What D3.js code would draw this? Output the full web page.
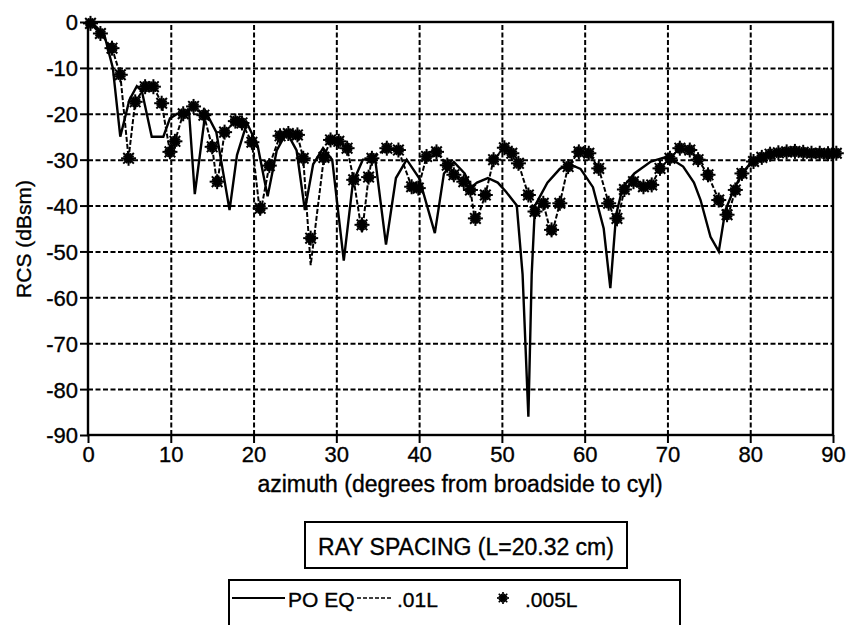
<!DOCTYPE html>
<html>
<head>
<meta charset="utf-8">
<script src="https://cdn.jsdelivr.net/npm/d3@7"></script>
<style>
  body { margin: 0; background: #fff; }
  svg { font-family: "Liberation Sans", Arial, Helvetica, sans-serif; }
  text { stroke: #000; stroke-width: 0.35px; }
</style>
</head>
<body>
<svg id="chart" width="853" height="625"></svg>
<script>
// ======================
// Data
// ======================
const xTicks = [0, 10, 20, 30, 40, 50, 60, 70, 80, 90];
const yTicks = [0, -10, -20, -30, -40, -50, -60, -70, -80, -90];

// PO EQ (solid line): [azimuth, RCS dBsm]
const poEq = [
  [0, 0], [1, -1], [2, -3], [3, -10], [3.9, -25], [5, -17], [5.9, -14], [6.5, -15],
  [7.7, -25], [9.1, -25], [9.9, -21], [10.8, -20], [12.2, -19.5], [12.9, -37.5],
  [14.2, -19.5], [15.5, -24], [17.1, -41], [18, -29], [19.2, -22], [20.5, -27],
  [21.7, -38], [22.8, -28], [24, -24], [25.2, -28], [26.2, -41], [27.2, -31],
  [28.4, -27.5], [29.5, -30], [30.9, -52], [32, -35], [33.2, -30], [34.7, -30],
  [36, -48.5], [37.2, -34], [38.5, -30], [40, -34], [41.9, -46], [43, -33],
  [44.2, -30.5], [45.5, -33], [46.3, -36], [47, -35], [48.3, -34], [49.5, -35],
  [50.5, -37], [51.8, -40], [52.5, -55], [53.2, -86], [53.6, -55], [54, -40],
  [55.5, -35], [57, -32], [58.2, -31], [59.5, -32], [61, -36], [62.3, -45],
  [63.1, -58], [63.8, -42], [64.6, -36], [66, -33], [68, -30.4], [70, -29.3],
  [71.9, -31.5], [73.2, -35], [74, -38.8], [75.2, -46.8], [76.2, -50], [77, -41],
  [78, -36.6], [79, -33], [80.2, -30.4], [82, -29], [85, -28.5], [90, -28.5]
];

// .01L (dashed line)
const ray01 = [
  [0, 0], [0.3, -0.3], [1.5, -2.5], [2.9, -5.7], [3.9, -11.5], [4.9, -29.7], [5.7, -17.4],
  [6.9, -14.1], [7.9, -14.1], [8.9, -17.7], [9.9, -28.3], [10.5, -26], [11.5, -20],
  [12.75, -18.4], [14, -20.3], [15, -27.2], [15.6, -35.5], [16.5, -24], [17.8, -21.6],
  [18.6, -22], [19.8, -26.2], [20.8, -42], [21.9, -31.3], [23.2, -24.8], [24.2, -24.3],
  [25.3, -24.6], [26, -29.7], [26.9, -53], [28.5, -29.5], [29.3, -25.7], [30.3, -26],
  [31.3, -27.5], [32.1, -34.4], [33.1, -46], [33.9, -33.8], [34.3, -29.7], [36.1, -27.5],
  [37.5, -27.9], [39.1, -35.9], [39.9, -36.2], [40.9, -29.3], [42.1, -28.3], [43.4, -31.2],
  [44.2, -33.3], [45.4, -34.8], [46.2, -36.6], [46.8, -44], [48, -37.7], [49, -30],
  [50.3, -27.4], [51.2, -28.6], [52, -30.8], [53.2, -37.7], [54, -41.3], [55, -39.5],
  [56, -46.5], [57, -39.5], [58, -31.5], [59.3, -28.3], [60.5, -28.6], [61.7, -31.9],
  [62.9, -39.5], [63.9, -44], [64.8, -36.5], [65.9, -34.8], [67.1, -35.9], [68.1, -35.5],
  [69.1, -31.9], [70.3, -29.7], [71.5, -27.5], [72.7, -27.9], [73.7, -30], [74.9, -33.3],
  [76.2, -38.8], [77.2, -43], [78.2, -36.6], [79, -33], [80.4, -30.4], [82.4, -28.8],
  [84.4, -28.3], [86.4, -28.4], [88.4, -28.6], [90, -28.6]
];

// .005L (asterisks)
const ray005 = [
  [0.3, -0.3], [1.5, -2.5], [2.9, -5.7], [3.9, -11.5], [4.9, -29.7], [5.7, -17.4],
  [6.9, -14.1], [7.9, -14.1], [8.9, -17.7], [9.9, -28.3], [10.5, -26], [11.5, -20],
  [12.75, -18.4], [14, -20.3], [15, -27.2], [15.6, -34.8], [16.5, -24], [17.8, -21.6],
  [18.6, -22], [19.8, -26.2], [20.8, -40.6], [21.9, -31.3], [23.2, -24.8], [24.2, -24.3],
  [25.3, -24.6], [26, -29.7], [26.9, -47.1], [28.5, -29.5], [29.3, -25.7], [30.3, -26],
  [31.3, -27.5], [32.1, -34.4], [33.1, -44.2], [33.9, -33.8], [34.3, -29.7], [36.1, -27.5],
  [37.5, -27.9], [39.1, -35.9], [39.9, -36.2], [40.9, -29.3], [42.1, -28.3], [43.4, -31.2],
  [44.2, -33.3], [45.4, -34.8], [46.2, -36.6], [46.8, -42.8], [48, -37.7], [49, -30],
  [50.3, -27.4], [51.2, -28.6], [52, -30.8], [53.2, -37.7], [54, -41.3], [55, -39.5],
  [56, -45.3], [57, -39.5], [58, -31.5], [59.3, -28.3], [60.5, -28.6], [61.7, -31.9],
  [62.9, -39.5], [63.9, -42.8], [64.8, -36.5], [65.9, -34.8], [67.1, -35.9], [68.1, -35.5],
  [69.1, -31.9], [70.3, -29.7], [71.5, -27.5], [72.7, -27.9], [73.7, -30], [74.9, -33.3],
  [76.2, -38.8], [77.2, -42], [78.2, -36.6], [79, -33], [80.4, -30.4], [81.4, -29.5],
  [82.4, -28.8], [83.4, -28.5], [84.4, -28.3], [85.4, -28.2], [86.4, -28.4], [87.4, -28.6],
  [88.4, -28.6], [89.4, -28.7], [90.4, -28.6]
];

const legendTitle = "RAY SPACING (L=20.32 cm)";
const legendItems = ["PO EQ", ".01L", ".005L"];

// ======================
// Setup
// ======================
const svg = d3.select("#chart");
const plot = { left: 88, right: 833, top: 22, bottom: 435 };

const x = d3.scaleLinear().domain([0, 90]).range([plot.left, plot.right]);
const y = d3.scaleLinear().domain([-90, 0]).range([plot.bottom, plot.top]);

// =========================
// Gridlines
// =========================
const gridX = svg.append("g")
  .attr("transform", `translate(0,${plot.bottom})`)
  .call(d3.axisBottom(x).tickValues(xTicks.slice(1, -1))
    .tickSize(-(plot.bottom - plot.top)).tickFormat(""));
const gridY = svg.append("g")
  .attr("transform", `translate(${plot.left},0)`)
  .call(d3.axisLeft(y).tickValues(yTicks.slice(1, -1))
    .tickSize(-(plot.right - plot.left)).tickFormat(""));

[gridX, gridY].forEach(g => {
  g.select(".domain").remove();
  g.selectAll("line")
    .attr("stroke", "#000")
    .attr("stroke-width", 2)
    .attr("stroke-dasharray", "5,2.5");
});

// =========================
// Series
// =========================
const line = d3.line().x(d => x(d[0])).y(d => y(d[1]));

svg.append("path")
  .datum(ray01)
  .attr("d", line)
  .attr("fill", "none")
  .attr("stroke", "#000")
  .attr("stroke-width", 2)
  .attr("stroke-dasharray", "5,2");

svg.append("path")
  .datum(poEq)
  .attr("d", line)
  .attr("fill", "none")
  .attr("stroke", "#000")
  .attr("stroke-width", 2.4);

function asterisk(g, r, w) {
  d3.range(8).forEach(i => {
    const a = i * Math.PI / 8;
    const rr = i % 2 ? r * 0.75 : r;
    g.append("line")
      .attr("x1", -rr * Math.cos(a)).attr("y1", -rr * Math.sin(a))
      .attr("x2", rr * Math.cos(a)).attr("y2", rr * Math.sin(a))
      .attr("stroke", "#000")
      .attr("stroke-width", w);
  });
  g.append("circle").attr("r", r * 0.35).attr("fill", "#000");
}

svg.append("g")
  .selectAll("g")
  .data(ray005)
  .join("g")
  .attr("transform", d => `translate(${x(d[0])},${y(d[1])})`)
  .each(function () { asterisk(d3.select(this), 7.5, 2); });

// =========================
// Axes + frame
// =========================
const fmt = d => String(d);   // plain hyphen for negatives
const axX = svg.append("g")
  .attr("transform", `translate(0,${plot.bottom})`)
  .call(d3.axisBottom(x).tickValues(xTicks).tickFormat(fmt).tickSize(8).tickPadding(3));
const axY = svg.append("g")
  .attr("transform", `translate(${plot.left},0)`)
  .call(d3.axisLeft(y).tickValues(yTicks).tickFormat(fmt).tickSize(8).tickPadding(2));

[axX, axY].forEach(g => {
  g.select(".domain").remove();
  g.selectAll("line").attr("stroke", "#000").attr("stroke-width", 2);
  g.selectAll("text")
    .attr("fill", "#000")
    .style("font-size", "22px")
    .style("font-family", "'Liberation Sans', Arial, sans-serif");
});
axY.selectAll("text").attr("dy", "0.36em");

svg.append("rect")
  .attr("x", plot.left)
  .attr("y", plot.top)
  .attr("width", plot.right - plot.left)
  .attr("height", plot.bottom - plot.top)
  .attr("fill", "none")
  .attr("stroke", "#000")
  .attr("stroke-width", 2.4);

// =========================
// Axis titles
// =========================
svg.append("text")
  .attr("x", 460)
  .attr("y", 492)
  .attr("text-anchor", "middle")
  .style("font-size", "23px")
  .text("azimuth (degrees from broadside to cyl)");

svg.append("text")
  .attr("transform", `translate(31,239) rotate(-90)`)
  .attr("text-anchor", "middle")
  .style("font-size", "21px")
  .text("RCS (dBsm)");

// =========================
// Legend
// =========================
svg.append("rect")
  .attr("x", 305).attr("y", 522)
  .attr("width", 322).attr("height", 46)
  .attr("fill", "none").attr("stroke", "#000").attr("stroke-width", 2);

svg.append("text")
  .attr("x", 466).attr("y", 555)
  .attr("text-anchor", "middle")
  .style("font-size", "23px")
  .text(legendTitle);

svg.append("path")
  .attr("d", "M229,640 V580 H680 V640")
  .attr("fill", "none").attr("stroke", "#000").attr("stroke-width", 2);

const ly = 598;
svg.append("line")
  .attr("x1", 232).attr("x2", 285).attr("y1", ly).attr("y2", ly)
  .attr("stroke", "#000").attr("stroke-width", 1.8);
svg.append("text").attr("x", 288).attr("y", ly + 9)
  .style("font-size", "21px").text(legendItems[0]);

svg.append("line")
  .attr("x1", 357).attr("x2", 392).attr("y1", ly).attr("y2", ly)
  .attr("stroke", "#000").attr("stroke-width", 1.4)
  .attr("stroke-dasharray", "4,2");
svg.append("text").attr("x", 397).attr("y", ly + 9)
  .style("font-size", "21px").text(legendItems[1]);

const legStar = svg.append("g").attr("transform", `translate(503,${ly})`);
asterisk(legStar, 6, 1.7);
svg.append("text").attr("x", 525).attr("y", ly + 9)
  .style("font-size", "21px").text(legendItems[2]);
</script>
</body>
</html>
